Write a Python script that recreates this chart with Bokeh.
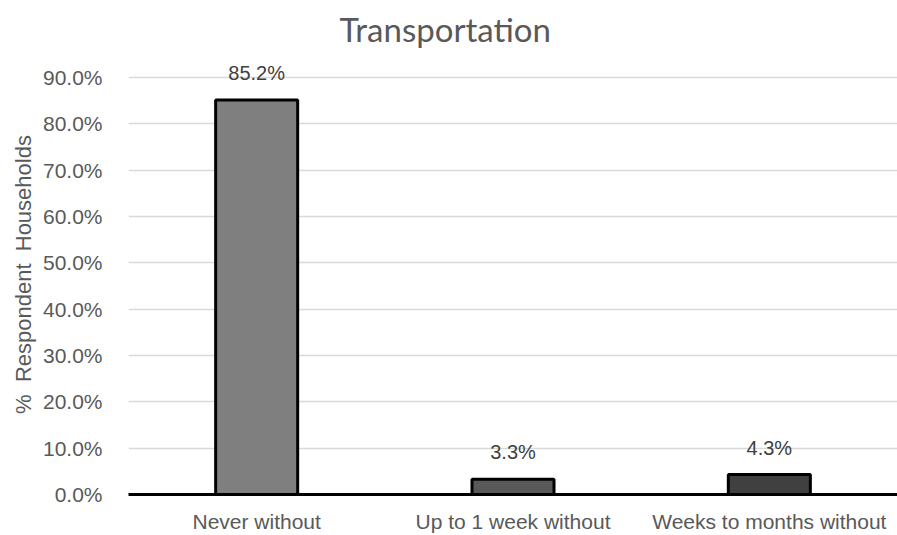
from bokeh.plotting import figure
from bokeh.models import (FactorRange, ColumnDataSource, NumeralTickFormatter,
                          FixedTicker, Range1d, LabelSet)
from bokeh.core.properties import value
from bokeh.embed import file_html
from bokeh.resources import INLINE

# Share of respondent households by time spent without transportation
categories = ["Never without", "Up to 1 week without", "Weeks to months without"]
shares = [0.852, 0.033, 0.043]
bar_colors = ["#7f7f7f", "#595959", "#404040"]
y_ticks = [0.0, 0.1, 0.2, 0.3, 0.4, 0.5, 0.6, 0.7, 0.8, 0.9]

labels = [f"{v * 100:.1f}%" for v in shares]
src = ColumnDataSource(dict(cat=categories, val=shares, color=bar_colors, label=labels))

# a little headroom above the last gridline keeps the top value label visible
p = figure(
    width=897, height=535,
    x_range=FactorRange(factors=categories, range_padding=0),
    y_range=Range1d(0, 0.95),
    output_backend="svg", toolbar_location=None,
    title="Transportation",
    min_border_left=128, min_border_right=0, min_border_top=54, min_border_bottom=41,
)
p.outline_line_color = None
p.background_fill_color = "white"
p.border_fill_color = "white"

p.title.align = "left"
p.title.offset = 211
p.title.text_font = "Lato"
p.title.text_font_size = "33px"
p.title.text_font_style = "normal"
p.title.text_color = "#595959"
p.title.standoff = 12

p.vbar(x="cat", top="val", width=0.32, fill_color="color",
       line_color="black", line_width=3, source=src)

p.add_layout(LabelSet(x="cat", y="val", text="label", source=src,
                      text_align="center", text_baseline="bottom", y_offset=16,
                      text_font_size="20px", text_color="#404040",
                      text_font=value("Liberation Sans")))

# y axis
p.yaxis.ticker = FixedTicker(ticks=y_ticks)
p.yaxis.formatter = NumeralTickFormatter(format="0.0%")
p.yaxis.axis_line_color = None
p.yaxis.major_tick_line_color = None
p.yaxis.minor_tick_line_color = None
p.yaxis.major_label_text_font = "Liberation Sans"
p.yaxis.major_label_text_font_size = "21px"
p.yaxis.major_label_text_color = "#595959"
p.yaxis.major_label_standoff = 20
p.yaxis.axis_label = "%\u00a0 Respondent\u00a0 Households"
p.yaxis.axis_label_text_font = "Liberation Sans"
p.yaxis.axis_label_text_font_size = "22px"
p.yaxis.axis_label_text_font_style = "normal"
p.yaxis.axis_label_text_color = "#595959"
p.yaxis.axis_label_standoff = 4

# x axis
p.xaxis.axis_line_color = "black"
p.xaxis.axis_line_width = 3
p.xaxis.major_tick_line_color = None
p.xaxis.minor_tick_line_color = None
p.xaxis.major_label_text_font = "Liberation Sans"
p.xaxis.major_label_text_font_size = "21px"
p.xaxis.major_label_text_color = "#595959"
p.xaxis.major_label_standoff = 9

p.xgrid.grid_line_color = None
p.ygrid.grid_line_color = "#d9d9d9"
p.ygrid.grid_line_width = 1.5

open("out.html", "w").write(file_html(p, INLINE))
